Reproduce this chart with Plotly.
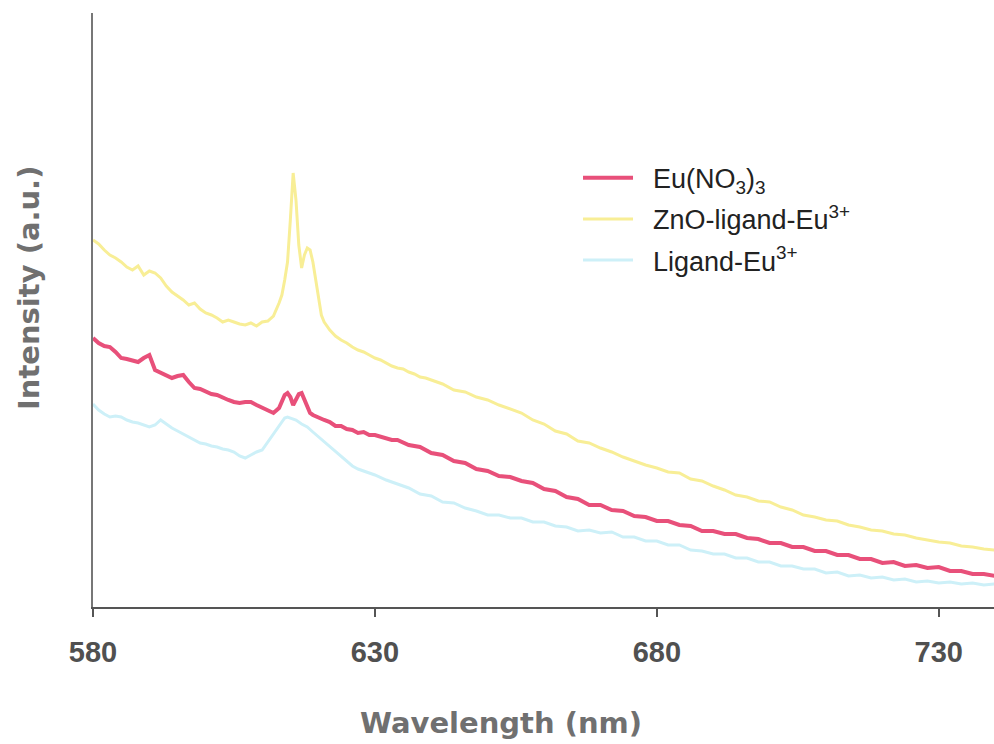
import plotly.graph_objects as go

# Wavelength (nm) and intensity (a.u.)
wl_zno = [580, 581, 582, 583, 584, 585, 586, 587, 588, 589, 590, 591, 592, 593, 594, 595, 596, 597, 598, 599,
          600, 601, 602, 603, 604, 605, 606, 607, 608, 609, 610, 611, 612, 613, 613.5, 614, 614.5, 615, 615.5, 616,
          616.5, 617, 617.5, 618, 618.5, 619, 619.5, 620, 620.5, 621, 622, 623, 624, 625, 626, 627, 628, 629, 630,
          631, 632, 633, 634, 635, 636, 637, 638, 639, 640, 642, 644, 646, 648, 650, 652, 654, 656, 658, 660,
          662, 664, 666, 668, 670, 672, 674, 676, 678, 680, 682, 684, 686, 688, 690, 692, 694, 696, 698, 700,
          702, 704, 706, 708, 710, 712, 714, 716, 718, 720, 722, 724, 726, 728, 730, 732, 734, 736, 738, 740]
int_zno = [367, 363, 357, 352, 349, 345, 340, 337, 341, 332, 336, 334, 329, 321, 315, 311, 307, 302, 304, 298,
           294, 292, 289, 285, 287, 285, 283, 282, 284, 281, 285, 286, 291, 304, 312, 327, 345, 387, 434, 407,
           362, 339, 352, 359, 357, 345, 327, 307, 292, 285, 277, 271, 267, 264, 260, 257, 255, 252, 249,
           247, 244, 241, 239, 238, 235, 233, 230, 229, 227, 223, 217, 215, 210, 207, 202, 198, 194, 187, 183,
           176, 173, 166, 164, 159, 155, 150, 146, 142, 139, 135, 134, 128, 126, 121, 117, 112, 110, 106, 105,
           100, 97, 92, 90, 87, 86, 82, 80, 77, 76, 73, 72, 69, 67, 65, 64, 61, 60, 58, 57]

wl_eu = [580, 581, 582, 583, 584, 585, 586, 587, 588, 589, 590, 591, 592, 593, 594, 595, 596, 597, 598, 599,
         600, 601, 602, 603, 604, 605, 606, 607, 608, 609, 610, 611, 612, 613, 614, 614.5, 615, 615.5, 616, 616.5,
         617, 617.5, 618, 618.5, 619, 620, 621, 622, 623, 624, 625, 626, 627, 628, 629, 630, 631, 632, 633, 634,
         636, 638, 640, 642, 644, 646, 648, 650, 652, 654, 656, 658, 660, 662, 664, 666, 668, 670, 672, 674,
         676, 678, 680, 682, 684, 686, 688, 690, 692, 694, 696, 698, 700, 702, 704, 706, 708, 710, 712, 714,
         716, 718, 720, 722, 724, 726, 728, 730, 732, 734, 736, 738, 740]
int_eu = [269, 264, 261, 260, 255, 249, 248, 246, 245, 249, 252, 237, 234, 232, 229, 231, 232, 225, 219, 218,
          215, 213, 212, 209, 207, 205, 204, 205, 205, 202, 199, 197, 194, 199, 212, 214, 210, 202, 207, 213,
          214, 207, 199, 194, 192, 189, 187, 185, 181, 181, 178, 177, 174, 175, 172, 172, 170, 169, 167, 167,
          162, 160, 154, 152, 146, 144, 138, 136, 131, 130, 126, 124, 118, 116, 110, 108, 102, 102, 97, 96,
          91, 90, 86, 86, 82, 81, 76, 76, 73, 73, 69, 68, 64, 64, 60, 60, 56, 56, 52, 52,
          48, 48, 44, 45, 41, 42, 39, 40, 36, 36, 33, 33, 31]

wl_lig = [580, 581, 582, 583, 584, 585, 586, 587, 588, 589, 590, 591, 592, 593, 594, 595, 596, 597, 598, 599,
          600, 601, 602, 603, 604, 605, 606, 607, 608, 609, 610, 611, 612, 613, 614, 614.5, 615, 616, 617, 618,
          619, 620, 621, 622, 623, 624, 625, 626, 627, 628, 629, 630, 632, 634, 636, 638, 640, 642, 644, 646,
          648, 650, 652, 654, 656, 658, 660, 662, 664, 666, 668, 670, 672, 674, 676, 678, 680, 682, 684, 686,
          688, 690, 692, 694, 696, 698, 700, 702, 704, 706, 708, 710, 712, 714, 716, 718, 720, 722, 724, 726,
          728, 730, 732, 734, 736, 738, 740]
int_lig = [203, 197, 193, 190, 191, 190, 187, 185, 184, 182, 180, 182, 187, 183, 179, 176, 173, 170, 167, 164,
           163, 161, 160, 158, 157, 155, 151, 149, 152, 155, 157, 165, 174, 182, 189, 190, 189, 187, 183, 180,
           175, 170, 165, 160, 155, 150, 145, 141, 138, 136, 134, 132, 127, 123, 119, 113, 111, 105, 104, 99,
           96, 92, 92, 89, 89, 85, 85, 81, 80, 76, 77, 74, 75, 70, 70, 66, 66, 62, 62, 57,
           56, 53, 53, 49, 49, 45, 45, 41, 41, 38, 38, 34, 35, 31, 32, 29, 30, 27, 28, 25,
           26, 24, 25, 23, 24, 22, 23]

names = ["&nbsp;&nbsp;Eu(NO<sub>3</sub>)<sub>3</sub>",
         "&nbsp;&nbsp;ZnO-ligand-Eu<sup>3+</sup>",
         "&nbsp;&nbsp;Ligand-Eu<sup>3+</sup>"]
colors = ["#E8507A", "#F8EE96", "#CDF0F8"]
widths = [4, 3, 3]

fig = go.Figure()
series = [(wl_eu, int_eu), (wl_zno, int_zno), (wl_lig, int_lig)]
for i, (wx, wy) in enumerate(series):
    fig.add_trace(go.Scatter(x=wx, y=wy, mode="lines", name=names[i],
                             line=dict(color=colors[i], width=widths[i]),
                             legendgroup=str(i)))

fig.update_layout(
    width=994, height=744,
    margin=dict(l=93, r=0, t=13, b=137),
    paper_bgcolor="white", plot_bgcolor="white",
    showlegend=True,
    legend=dict(x=0.5383, y=0.763, xanchor="left", yanchor="top",
                font=dict(family="Liberation Sans", size=27, color="#222"),
                bgcolor="rgba(0,0,0,0)", tracegroupgap=3, traceorder="grouped",
                itemwidth=50),
    xaxis=dict(range=[580, 739.8], tickvals=[580, 630, 680, 730],
               ticktext=["580", "630", "680", "730"],
               showgrid=False, zeroline=False, showline=True, linecolor="#555", linewidth=2,
               ticks="outside", ticklen=8, tickcolor="#555", tickwidth=2, ticklabelstandoff=10,
               tickfont=dict(family="Liberation Sans", size=29, weight="bold", color="#505050")),
    yaxis=dict(range=[0, 594], showgrid=False, zeroline=False, showline=True, linecolor="#777",
               linewidth=2, showticklabels=False, ticks=""),
    annotations=[
        dict(text="Wavelength (nm)", x=0.4528, y=-0.195, xref="paper", yref="paper",
             xanchor="center", yanchor="middle", showarrow=False,
             font=dict(family="DejaVu Sans", size=29, weight="bold", color="#707070")),
        dict(text="Intensity (a.u.)", x=-0.071, y=0.537, xref="paper", yref="paper",
             xanchor="center", yanchor="middle", showarrow=False, textangle=-90,
             font=dict(family="DejaVu Sans", size=29, weight="bold", color="#707070")),
    ],
)

fig.write_html("out.html")
